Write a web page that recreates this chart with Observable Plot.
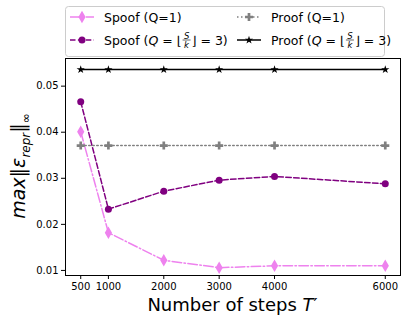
<!DOCTYPE html>
<html><head><meta charset="utf-8">
<script src="https://cdn.jsdelivr.net/npm/d3@7"></script>
<script src="https://cdn.jsdelivr.net/npm/@observablehq/plot@0.6"></script>
<style>
body{margin:0;background:#fff;font-family:"DejaVu Sans",sans-serif;}
#wrap{position:relative;width:406px;height:327px;}
#wrap svg{position:absolute;left:0;top:0;}
.lbl{position:absolute;font-family:"DejaVu Sans",sans-serif;color:#000;white-space:nowrap;}
</style></head>
<body><div id="wrap"></div>
<script>
const steps = [500, 1000, 2000, 3000, 4000, 6000];
const spoofQ1 = [0.0401, 0.0182, 0.0122, 0.0106, 0.0110, 0.0110];
const spoofQ3 = [0.0466, 0.0233, 0.0272, 0.0296, 0.0304, 0.0288];
const proofQ1 = [0.0371, 0.0371, 0.0371, 0.0371, 0.0371, 0.0371];
const proofQ3 = [0.0536, 0.0536, 0.0536, 0.0536, 0.0536, 0.0536];
const xTicks = [500, 1000, 2000, 3000, 4000, 6000];
const yTicks = [0.01, 0.02, 0.03, 0.04, 0.05];

const series = [
  {name: "spoof1", vals: spoofQ1, color: "#ee82ee", dash: "9.6,2.4,1.5,2.4", symbol: "diamond", r: 3.8},
  {name: "spoof3", vals: spoofQ3, color: "#800080", dash: "5.5,2.4", symbol: "circle", r: 3.5},
  {name: "proof1", vals: proofQ1, color: "#808080", dash: "1.5,2.5", symbol: "cross", r: 3.4},
  {name: "proof3", vals: proofQ3, color: "#000000", dash: null, symbol: "star", r: 2.6}
];
const rows = s => steps.map((x, i) => ({x, y: s.vals[i]}));

const marks = [];
for (const s of series) {
  marks.push(Plot.line(rows(s), {x: "x", y: "y", stroke: s.color, strokeWidth: 1.5, strokeDasharray: s.dash || undefined}));
  marks.push(Plot.dot(rows(s), {x: "x", y: "y", fill: s.color, stroke: "none", symbol: () => s.symbol, r: s.r}));
}
marks.push(Plot.frame({stroke: "#000", strokeWidth: 1}));
marks.push(Plot.axisX(xTicks, {tickSize: 4, fontSize: 10, label: null, tickPadding: 3, tickFormat: d3.format("d")}));
marks.push(Plot.axisY(yTicks, {tickSize: 4, fontSize: 10, label: null, tickFormat: d3.format(".2f"), tickPadding: 3}));

const chart = Plot.plot({
  width: 406, height: 327,
  marginLeft: 65, marginRight: 6, marginTop: 58, marginBottom: 52,
  style: {fontFamily: "DejaVu Sans, sans-serif", fontSize: "10px", color: "#000", background: "#fff"},
  x: {domain: [225, 6275]},
  y: {domain: [0.0089, 0.056]},
  symbol: {type: "identity"},
  marks
});
const wrap = document.getElementById("wrap");
wrap.appendChild(chart);

// Legend (overlay SVG)
const leg = d3.select(wrap).append("svg").attr("width", 406).attr("height", 62).style("overflow", "visible");
leg.append("rect").attr("x", 65.5).attr("y", 6.5).attr("width", 319).attr("height", 50).attr("rx", 3)
  .attr("fill", "rgba(255,255,255,0.85)").attr("stroke", "#cccccc");
const pos = [
  {s: series[0], x: 70, y: 17, label: "Spoof (Q=1)", math: false},
  {s: series[1], x: 70, y: 40, label: "Spoof", math: true},
  {s: series[2], x: 237, y: 17, label: "Proof (Q=1)", math: false},
  {s: series[3], x: 237, y: 40, label: "Proof", math: true}
];
for (const p of pos) {
  const g = leg.append("g");
  g.append("line").attr("x1", p.x).attr("x2", p.x + 24).attr("y1", p.y).attr("y2", p.y)
    .attr("stroke", p.s.color).attr("stroke-width", 1.5).attr("stroke-dasharray", p.s.dash);
  const sym = {diamond: d3.symbolDiamond, circle: d3.symbolCircle, cross: d3.symbolCross, star: d3.symbolStar}[p.s.symbol];
  g.append("path").attr("transform", `translate(${p.x + 12},${p.y})`)
    .attr("d", d3.symbol(sym, Math.PI * p.s.r * p.s.r)()).attr("fill", p.s.color);
  const t = g.append("text").attr("x", p.x + 34).attr("y", p.y + 4.5).attr("font-size", 12.5).attr("fill", "#000");
  if (!p.math) t.text(p.label);
  else {
    t.append("tspan").text(p.label + " (");
    t.append("tspan").attr("font-style", "italic").text("Q");
    t.append("tspan").text(" = ⌊");
    const tx = t.node().getComputedTextLength();
    const fx = p.x + 34 + tx + 1;
    t.append("tspan").attr("dx", 10).text("⌋ = 3)");
    g.append("text").attr("x", fx + 4).attr("y", p.y - 1.5).attr("font-size", 8.5).attr("font-style", "italic").attr("text-anchor", "middle").text("S");
    g.append("line").attr("x1", fx).attr("x2", fx + 8).attr("y1", p.y).attr("y2", p.y).attr("stroke", "#000").attr("stroke-width", 0.6);
    g.append("text").attr("x", fx + 4).attr("y", p.y + 7.5).attr("font-size", 8.5).attr("font-style", "italic").attr("text-anchor", "middle").text("k");
  }
}

// Axis labels
const xl = document.createElement("div");
xl.className = "lbl";
xl.style.cssText += "left:0;width:465px;text-align:center;top:294px;font-size:18px;";
xl.innerHTML = 'Number of steps <i>T</i>′';
wrap.appendChild(xl);

const yl = document.createElement("div");
yl.className = "lbl";
yl.style.cssText += "left:20px;top:166px;font-size:19px;transform:translate(-50%,-50%) rotate(-90deg);";
yl.innerHTML = '<i>max</i>‖<i>ε</i><sub style="font-size:12px;font-style:italic">repr</sub>‖<sub style="font-size:12px">∞</sub>';
wrap.appendChild(yl);
</script></body></html>
